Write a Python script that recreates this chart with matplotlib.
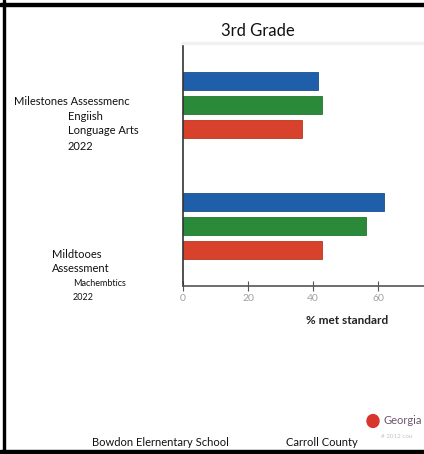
import matplotlib.pyplot as plt
from matplotlib.patches import Rectangle, Circle

plt.rcParams['font.family'] = ['Lato', 'DejaVu Sans']

# % of students meeting standard, one row per assessment
subjects = ["ELA", "Math"]
school = [41.6, 61.8]
county = [42.8, 56.2]
state = [36.4, 42.8]
series_colors = ["#1f5ea8", "#2a8a3a", "#d8412b"]
edge_colors = ["#1d4e8a", "#23742f", "#b8361f"]
xticks = [0, 20, 40, 60]

W, H = 424, 454
fig = plt.figure(figsize=(W / 100, H / 100), dpi=100)


def px(x, y):
    return x / W, 1 - y / H


# plot area: left edge at x=183, top at y=43, bottom at y=286
ax = fig.add_axes([183 / W, 1 - 286 / H, 1 - 183 / W, (286 - 43) / H])

bar_h = 0.153
offset = 0.198
for i, vals in enumerate([school, county, state]):
    ypos = [g + (i - 1) * offset for g in range(len(subjects))]
    ax.barh(ypos, vals, height=bar_h, color=series_colors[i],
            edgecolor=edge_colors[i], linewidth=0.6)

ax.set_xlim(0, 74)
ax.set_ylim(1.496, -0.512)
ax.set_yticks([])
ax.set_xticks(xticks)
ax.set_xticklabels([str(t) for t in xticks], color="#a0a0a0", fontsize=7.5)
ax.tick_params(axis="x", direction="inout", length=7, width=0.8,
               color="#555555", pad=2)
ax.spines["right"].set_visible(False)
ax.spines["top"].set_color("#f0f0f0")
ax.spines["top"].set_linewidth(2.5)
ax.spines["left"].set_color("#333333")
ax.spines["bottom"].set_color("#555555")
ax.spines["left"].set_linewidth(1.2)
ax.spines["bottom"].set_linewidth(1.2)

fig.text(*px(347, 320), "% met standard", ha="center", va="center",
         fontsize=8.5, fontweight="bold", color="#222222")

fig.text(*px(258, 31), "3rd Grade", ha="center", va="center", fontsize=12,
         color="#111111")

# row labels
lbl = dict(ha="left", va="center", color="#111111")
fig.text(*px(14, 101), "Milestones Assessmenc", fontsize=8, **lbl)
fig.text(*px(68, 116), "Engiish", fontsize=8, **lbl)
fig.text(*px(68, 131), "Longuage Arts", fontsize=8, **lbl)
fig.text(*px(68, 146), "2022", fontsize=8, **lbl)
fig.text(*px(52, 254), "Mildtooes", fontsize=8, **lbl)
fig.text(*px(52, 269), "Assessment", fontsize=8, **lbl)
fig.text(*px(73, 284), "Machembtics", fontsize=6.5, **lbl)
fig.text(*px(73, 298), "2022", fontsize=6.5, **lbl)

# footer
fig.text(*px(160, 443), "Bowdon Elernentary School", ha="center",
         va="center", fontsize=8, color="#111111")
fig.text(*px(322, 443), "Carroll County", ha="center", va="center",
         fontsize=8, color="#111111")

# state legend entry at the right edge
fig.patches.append(Circle(px(373, 421), 6 / W, transform=fig.transFigure,
                          color="#d8352b", zorder=5))
fig.text(*px(383, 421), "Georgia", ha="left", va="center", fontsize=8,
         color="#6e5470")
fig.text(*px(381, 437), "# 2012 cou", ha="left", va="center", fontsize=4.5,
         color="#c8c0cc")

# frame on left, top and bottom
frame = dict(transform=fig.transFigure, color="black", zorder=10)
fig.patches.append(Rectangle((2.5 / W, 0), 2.5 / W, 1, **frame))
fig.patches.append(Rectangle((0, 1 - 5.5 / H), 1, 2.5 / H, **frame))
fig.patches.append(Rectangle((0, 1 - 452.5 / H), 1, 2.5 / H, **frame))

fig.savefig("out.png", dpi=100)
